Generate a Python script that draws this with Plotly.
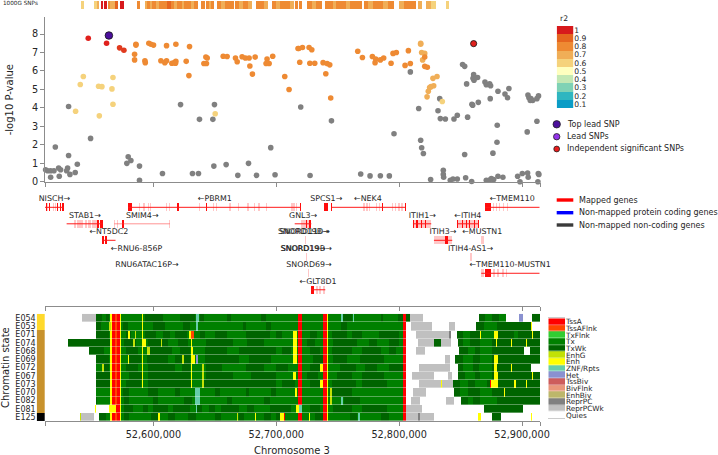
import numpy as np
import plotly.graph_objects as go

W, H = 718, 455
START = 52_500_000          # all positions below are kb after this base
X0_KB, X1_KB = 11.8, 414.6
FONT = "DejaVu Sans"
INK = "#262626"
AXC = "#8c8c8c"

# ---------- SNPs (kb offset, -log10 P) ----------
gray_kb = [12.3,14.0,16.4,16.4,19.1,20.2,22.9,23.4,24.5,29.4,30.2,31.0,31.0,32.1,36.4,38.1,48.9,78.4,79.5,81.7,88.7,88.7,107.4,122.1,131.8,136.7,137.5,148.4,149.2,149.7,159.2,168.7,177.4,183.9,195.5,199.0,219.9,244.9,227.5,268.7,276.3,284.7,292.0,295.8,309.1,315.9,317.5,318.3,319.7,325.6,335.9,335.9,336.2,331.6,333.0,333.5,337.6,341.6,343.8,347.3,344.6,347.3,355.7,354.1,359.0,353.3,351.6,353.3,360.6,363.8,360.1,360.9,354.9,359.2,359.8,364.4,369.8,370.9,373.6,374.4,370.9,373.6,375.0,376.9,380.4,384.4,374.1,380.4,386.1,388.2,389.3,379.6,379.8,376.3,396.4,400.2,398.3,404.5,405.0,412.9,413.2,413.7,404.2,412.1,404.8,405.6,407.2,406.7,408.6,412.1,413.4]
gray_p = [0.65,0.6,0.6,0.25,0.6,1.88,0.75,0.3,0.65,0.6,0.75,1.42,4.08,0.4,0.5,0.95,2.35,1.0,1.35,1.15,0.85,0.08,0.45,4.18,0.45,0.45,3.38,3.38,0.85,4.18,0.93,0.35,1.0,0.35,1.85,0.38,4.05,3.3,0.34,0.42,0.32,0.33,0.32,2.6,5.95,3.97,2.25,1.84,1.53,0.12,0.62,0.4,0.25,3.85,4.5,3.42,3.4,0.08,0.15,0.15,3.4,3.6,3.5,0.22,0.02,1.48,6.35,6.25,5.8,5.65,5.6,5.5,5.3,4.2,4.15,4.3,5.4,5.25,5.3,5.2,0.08,0.1,0.18,0.12,0.3,0.25,4.5,4.9,4.75,4.55,5.05,2.14,3.06,1.55,0.3,0.45,0.0,0.47,0.25,0.0,0.45,0.4,2.7,3.28,4.7,4.55,4.5,4.4,4.4,4.5,4.65]

r06_kb = [36.7,56.0,67.1,40.5,43.0,55.4,58.1,66.3,67.1,150.3,335.1]
r06_p = [3.82,3.57,4.2,5.27,5.7,5.17,5.15,5.03,5.65,3.68,4.35]

r07_kb = [327.5,330.8,324.8,328.1,323.7,322.7,325.9,317.5,317.5,319.1,318.3,320.8]
r07_p = [5.6,5.7,5.1,5.2,4.9,4.6,5.15,7.5,7.45,6.6,7.0,6.95]

r08_kb = [84.7,84.7,85.8,85.8,96.3,98.0,100.1,110.7,118.3,129.4,93.1,93.4,106.1,109.3,110.7,115.0,117.0,118.3,118.0,126.7,128.9,141.1,143.2,142.7,143.8,156.8,160.0,166.8,168.2,172.2,174.9,177.9,178.5,180.6,182.8,192.5,191.7,194.2,197.1,206.9,210.4,217.7,218.3,221.3,226.7,228.9,219.1,227.3,231.3,238.1,241.4,243.5,240.3,244.3,266.3,270.1,278.2,280.9,280.4,284.7,287.4,293.4,295.0,297.7,307.5,304.8,309.1,320.8,320.8,322.9]
r08_p = [6.9,6.6,7.45,7.4,7.5,7.45,7.4,7.37,7.45,7.32,6.55,6.45,6.55,6.45,6.55,6.42,6.45,6.52,6.42,6.52,5.75,6.4,6.4,6.75,6.7,6.8,6.78,6.7,6.5,6.77,6.7,6.7,6.27,5.83,6.75,6.65,6.4,6.4,6.8,5.7,5.0,7.22,7.22,7.27,7.27,7.15,6.47,6.42,6.42,6.45,6.4,6.33,5.85,4.54,7.07,6.73,6.78,6.65,6.45,6.6,6.7,6.42,6.95,7.0,7.1,6.3,6.4,6.75,6.25,6.2]

r10_kb = [47.0,61.9]
r10_p = [7.77,7.5]
r095_kb = [72.5,76.0]
r095_p = [7.25,7.12]
top_kb, top_p = [63.8], [7.92]
indep_kb, indep_p = [360.6], [7.48]

# ---------- 1000G band (start kb, end kb, r2) ----------
band_runs = [(41.1,43.5,.6),(51.6,53.8,.6),(53.8,56,.7),(57.3,59,1),(59.6,62.2,1),(63.8,65.4,.8),(65.4,66.6,.7),(67,68.4,.7),(68.4,71,.9),(72.8,76,1),(86.9,89,.8),
(93.1,95,.7),(95,97.5,.8),(97.5,99,.7),(99,102,.8),(102,104.5,.7),(104.5,108,.8),(108,111,.8),(111,114,.9),(114,117,.8),(117,119,.7),(119,123,.8),(123,125,.7),(125,128,.8),(128,131,.8),(131,133,.7),(133,136.4,.8),
(138.9,141.6,.8),(142.7,145,.8),(145,147,.7),(147,149.5,.8),(151.9,155,.8),(155,158,.7),(158,162,.8),(162,165.4,.8),(166,170,.8),(170,173,.7),(173,177,.8),(177,180.3,.7),(183.9,187,.8),(187,190,.8),(190,193.4,.7),
(196.9,200,.8),(200,203,.7),(203,207,.8),(207,211,.8),(211,214.3,.7),(215,217.8,.8),(218.3,221.3,.8),(225.4,229,.8),(229,232,.7),(232,237.6,.8),(239.5,243,.8),(243,246,.8),(246,249,.7),(249,253,.8),(253,257,.8),(257,260,.7),(260,265,.8),(265,270,.8),
(271.2,275,.8),(275,279,.7),(279,283,.8),(283,287,.8),(287,291,.7),(291,296,.8),(300.2,304,.7),(304,309,.8),(309,314,.8),(315.3,318.6,.7),(321.6,326,.7),(326,329.7,.6),(337.8,340.3,.6)]

r2_labels = ["1","0.9","0.8","0.7","0.6","0.5","0.4","0.3","0.2","0.1"]
r2_colors = ["#d7191c","#e5651f","#ee8a33","#f0ae57","#f5d27c","#ffffbf","#c3e8b4","#7fd2b5","#2fb6c0","#0a9cc6"]
r2_color_of = {1:r2_colors[0],.9:r2_colors[1],.8:r2_colors[2],.7:r2_colors[3],.6:r2_colors[4]}

# ---------- genes ----------
gene_names = ["NISCH→","←PBRM1","SPCS1→","←NEK4","←TMEM110","STAB1→","SMIM4→","GNL3→","ITIH1→","←ITIH4","←NT5DC2","SNORD19B→","SNORD110→","ITIH3→","←MUSTN1","←RNU6-856P","SNORD19→","SNORD19B→","ITIH4-AS1→","RNU6ATAC16P→","SNORD69→","←TMEM110-MUSTN1","←GLT8D1"]
gene_rows = [0,0,0,0,0,1,1,1,1,1,2,2,2,2,2,3,3,3,3,4,4,4,5]
gene_label_kb = [19.4,150,240.7,274.6,392,44.3,90.9,221.8,318.8,355.9,63.8,222.0,223.1,335.6,367.6,86.3,221.8,224.5,358.1,94.7,226.6,390.3,234]
# gene body lines: row, start, end
body_lines = [(0,11.8,27.2),(0,79.5,219.9),(0,244.8,305),(0,370,414.2),(1,29.4,58.7),(1,215,228.5),(1,311.2,326.1),(1,347,364.9),(2,58.4,69.2),(2,328.3,343.2),(4,366.8,414.2),(5,228.5,239.9)]
pale_lines = [(1,68.2,113.4)]
strong_exons = [(0,12.3,13.2),(0,15,15.9),(0,21.5,22.6),(0,24,25.1),(0,25.9,27.2),(0,79.5,82.8),(0,119.6,121),(0,143.2,144),(0,219,219.9),
(0,238.8,241),(0,241.4,242.4),(0,244.8,245.5),(0,278.4,279),(0,286,286.6),(0,304.7,305.2),(0,370,374.5),
(1,29.4,29.8),(1,53.8,56),(1,56.5,58.7),(1,74.7,76),(1,311.2,312.4),(1,314,315),(1,317.5,318.5),(1,321,322),(1,347,347.8),(1,351,351.8),(1,354.5,355.5),(1,357,358),(1,360.5,361.5),(1,364,364.9),
(1,224,225),(1,227,228.3),(2,58.4,60),(2,60.5,62),(2,63.5,64),(2,337,339.5),(4,369.5,374.5),(5,228.5,231)]
pale_exons = [(0,13.5,14.5),(0,16.5,17),(0,18.5,19),(0,20,21),(0,88,89),(0,91.8,92.8),(0,95.3,96.3),(0,97.2,98.2),(0,110.2,111.2),(0,112.9,113.9),(0,137.3,138.3),(0,148.1,149.1),(0,150.9,151.9),(0,161.6,163.5),(0,168.5,169.5),(0,176.5,177.5),(0,182,183),(0,185.5,186.5),(0,191.5,192.5),(0,212.3,213.5),(0,214,215),(0,216,217),
(0,270.9,271.9),(0,273.3,274.3),(0,275.5,276.5),(0,280.9,281.9),(0,283.6,284.6),(0,293.9,294.9),(0,296.6,297.6),(0,299.3,300.3),(0,301.8,302.8),(0,376,376.8),(0,378.6,379.4),(0,381.3,382.1),(0,384.5,385.3),(0,388,388.8),
(1,35.4,37),(1,37.5,40),(1,40.5,43),(1,44,46),(1,47,49),(1,50,53.8),(1,68,68.6),(1,70.6,71.2),(1,113.1,113.6),(1,215,215.5),(1,220.4,228.5),(1,311.2,326.1),(1,347,364.9),
(2,328.3,337),(2,339.5,343.2),(2,366.8,369),(2,223,224.5),(3,224,225),(3,85.6,86),(3,357.5,358.9),(4,94.5,95),(4,226,227),
(4,366.8,369),(4,376,378),(4,379.5,381),(4,384,385),(4,387,388),(5,232,234),(5,235,236.5),(5,238,239.9)]

# ---------- chromatin states ----------
state_names = ["TssA","TssAFlnk","TxFlnk","Tx","TxWk","EnhG","Enh","ZNF/Rpts","Het","TssBiv","BivFlnk","EnhBiv","ReprPC","ReprPCWk","Quies"]
state_colors = ["#ff0000","#ff4500","#32cd32","#008000","#006400","#c2e105","#ffff00","#66cdaa","#8a91d0","#cd5c5c","#e9967a","#bdb76b","#808080","#c0c0c0","#ffffff"]
row_names = ["E054","E053","E071","E074","E068","E069","E072","E067","E073","E070","E082","E081","E125"]
strip_groups = [0,0,1,1,1,1,1,1,1,1,1,1,2]
strip_colors = ["#ffd92b","#c8922c","#000000"]

# base runs: (start, end, state) painted in order
E054_runs = [(42.1,53,13),(53,305.8,3),(305.8,308.5,4),(308.5,319.3,13),(364.6,386.5,3),(364.6,370,4),(376,381,4),(397.9,401.2,8),(408,414.2,4)]
E053_runs = [(53,305.8,3),(309.8,326.9,13),(340.2,345.6,13),(362.7,387,4),(369,380,3),(387,407.4,4),(407.4,408.2,6)]
E071_runs = [(53,305.8,3),(313.9,342.4,13),(340.5,342.4,12),(347.2,414.2,4),(352,358,3),(365.4,377,3),(365.4,366.4,6),(377.6,380.3,6),(394,397,3),(408,408.8,6)]
E074_runs = [(30.8,53,4),(53,305.8,3),(315.3,328.3,13),(328.3,334,4),(334,342.1,13),(348,414.2,4),(352,358,3),(366,376,3),(378.5,380,6),(391,392,6),(403,404,6)]
E068_runs = [(47.8,53,4),(53,305.8,3),(313.9,321,13),(349,402,4),(356,362,3),(366,376,3),(406.6,414.2,4)]
E069_runs = [(53,305.8,3),(337.5,341,13),(345.6,414.2,4),(352,360,3),(366,376,3),(377.6,380.3,6)]
E072_runs = [(53,305.8,3),(315.8,341,13),(348,407.4,4),(352,360,3),(365,376,3),(377.5,380,6),(391,392,6)]
E067_runs = [(53,305.8,3),(310.7,328.8,13),(340,343,13),(348,414.2,4),(354,362,3),(366,376,3),(377.6,380.3,6),(408,409,6)]
E073_runs = [(53,305.8,3),(316,344.3,13),(334,334.6,6),(344.3,414.2,4),(350,356,3),(362,372,3),(375,380.3,6),(374,375,0),(394,395,6),(403,404,6)]
E070_runs = [(53,305.8,3),(311.2,322,13),(344.7,414.2,4),(350,356,3),(366,376,3),(385,386,6)]
E082_runs = [(53,305.8,3),(309.8,316.6,13),(337.8,345,13),(350.5,414.2,4),(356,360,3),(366,380,3)]
E081_runs = [(52.4,53.5,6),(64,305.8,3),(305.8,318.8,13),(369.5,400.6,4)]
E125_runs = [(40.2,41,5),(41.6,51.6,13),(56,305.8,3),(305.8,328.8,13),(315.3,317.2,12),(364,366.2,6),(375.4,382.5,4),(407,408,6)]

# weak-transcription patches inside the main block (start, end)
E054_dark = [(53,58),(62,64),(93,108),(122,134),(138,141),(160,163),(188,192),(254,262),(285,287),(299,303)]
E053_dark = [(53,57),(75,79),(100,110),(124,130),(173,175),(192,196),(253,258)]
E071_dark = [(53,64),(78,82),(93,102),(108,114),(118,127),(138,142),(150,160),(175,195),(200,205),(228,233),(245,258),(262,270),(284,300)]
E074_dark = [(53,65),(76,86),(96,112),(120,128),(143,165),(176,190),(225,232),(246,266),(276,282),(292,300)]
E068_dark = [(53,60),(78,88),(95,115),(122,130),(142,160),(170,200),(205,212),(228,236),(245,262),(270,285),(292,298)]
E069_dark = [(53,64),(80,90),(95,112),(118,130),(142,170),(178,196),(230,238),(246,258),(268,288)]
E072_dark = [(58,64),(78,88),(96,118),(123,130),(143,156),(175,190),(200,210),(228,236),(252,265),(272,282),(292,303)]
E067_dark = [(53,66),(80,92),(96,130),(143,165),(180,200),(225,234),(250,262),(270,288)]
E073_dark = [(53,66),(78,90),(96,132),(140,200),(205,215),(228,236),(245,265),(270,290)]
E070_dark = [(75,80),(96,104),(118,122),(150,154),(175,178),(196,200),(245,262)]
E082_dark = [(53,54),(76,80),(100,104),(125,132),(160,164),(190,195),(255,268)]
E081_dark = [(76,84),(92,96),(100,112),(116,130),(136,140),(145,150),(155,170),(176,182),(195,212),(228,236),(246,262),(270,290)]
E125_dark = [(56,62),(76,80),(98,104),(112,118),(128,135),(150,155),(170,174),(190,196),(200,205),(232,238),(260,266),(285,292)]

# features common to most samples
shared_marks = [(64.5,66.4,6),(66.4,69.2,0),(69.2,70.6,1),(70.6,72.8,0),(72.8,74,6),(217.7,221.2,0),(238.2,241.2,0),(241.2,241.8,6),(303.6,305.8,0)]
# enhancer stripe present in the first nine samples only
E91_mark = [(90.8,91.8,6)]
# sample-specific features painted last
E054_marks = [(135,137,7),(253,254.3,7),(262.5,263.5,7)]
E053_marks = [(135,136.5,7),(64,66,5)]
E071_marks = [(79,80.5,6),(85,86,5),(129,131,6),(131,133,1),(213.6,217,6)]
E074_marks = [(91,94,6),(106,107,5),(131,132,6),(213.6,217,6),(84,85,5)]
E068_marks = [(131,132.5,6),(95,97,5),(213.6,217,6)]
E069_marks = [(79,80,6),(131,134,6),(134.5,136.5,8),(123,125,5),(213.6,217,6)]
E072_marks = [(58,60,5),(131,132,6),(140,141,5),(236,238,6)]
E067_marks = [(131,132,6),(140,141,5),(214,216,6)]
E073_marks = [(131,132,6),(140,141,5),(236,238,6)]
E070_marks = [(134,138,7),(215,217,6),(244,245,5)]
E082_marks = [(134,138,7),(253,254.3,7),(244,245,5)]
E081_marks = [(64,66.5,6),(66.5,70,6),(70,72.8,0),(72.8,74,6),(134.5,135.5,7),(216,218.5,6),(218.5,221,7)]
E125_marks = [(103.5,105,6),(168,169,5),(183,184,6),(203,206.5,6),(206.5,207,0),(266.5,268,7),(227,228,6)]

all_runs = [E054_runs,E053_runs,E071_runs,E074_runs,E068_runs,E069_runs,E072_runs,E067_runs,E073_runs,E070_runs,E082_runs,E081_runs,E125_runs]
all_dark = [E054_dark,E053_dark,E071_dark,E074_dark,E068_dark,E069_dark,E072_dark,E067_dark,E073_dark,E070_dark,E082_dark,E081_dark,E125_dark]
all_marks = [E054_marks,E053_marks,E071_marks,E074_marks,E068_marks,E069_marks,E072_marks,E067_marks,E073_marks,E070_marks,E082_marks,E081_marks,E125_marks]

# ---------- text ----------
x_ticks_kb = [11.8,100,200,300,400,414.6]
x_tick_text = ["","52,600,000","52,700,000","52,800,000","52,900,000",""]
y_ticks = [0,1,2,3,4,5,6,7,8]


def pos(a):
    return START + 1000 * np.asarray(a, dtype=float)

def xd(l, r):
    return [l / W, r / W]

def yd(t, b):
    return [1 - b / H, 1 - t / H]

X_RANGE = [pos(X0_KB), pos(X1_KB)]
MAIN_X = xd(45, 540)
fig = go.Figure()

# Manhattan
def snp(kb, p, color, size=5.6, line=None):
    fig.add_trace(go.Scatter(x=pos(kb), y=p, mode="markers", cliponaxis=False, hoverinfo="skip", showlegend=False,
                             marker=dict(color=color, size=size, line=line or dict(width=0)), xaxis="x", yaxis="y"))
snp(gray_kb, gray_p, "#808080")
snp(r06_kb, r06_p, r2_colors[4])
snp(r07_kb, r07_p, r2_colors[3])
snp(r08_kb, r08_p, r2_colors[2])
snp(r095_kb, r095_p, "#e03a1e")
snp(r10_kb, r10_p, "#e0201c")
snp(top_kb, top_p, "#4b0f9c", size=7.6, line=dict(width=0.8, color="#111111"))
snp(indep_kb, indep_p, "#e0201c", size=6.2, line=dict(width=0.8, color="#111111"))

# 1000G band
fig.add_trace(go.Bar(x=pos([(a + b) / 2 for a, b, _ in band_runs]), width=[(b - a) * 1000 for a, b, _ in band_runs],
                     y=[1] * len(band_runs), marker=dict(color=[r2_color_of[c] for _, _, c in band_runs], line=dict(width=0)),
                     hoverinfo="skip", showlegend=False, xaxis="x2", yaxis="y2"))

# Genes
def lines(runs, color, width):
    xs, ys = [], []
    for r, a, b in runs:
        xs += [pos(a), pos(b), None]
        ys += [r, r, None]
    fig.add_trace(go.Scatter(x=xs, y=ys, mode="lines", line=dict(color=color, width=width), hoverinfo="skip",
                             showlegend=False, xaxis="x3", yaxis="y3"))

def exons(runs, color):
    fig.add_trace(go.Bar(x=pos([(a + b) / 2 for _, a, b in runs]), width=[(b - a) * 1000 for _, a, b in runs],
                         base=[r - 0.24 for r, _, _ in runs], y=[0.48] * len(runs),
                         marker=dict(color=color, line=dict(width=0)), hoverinfo="skip", showlegend=False,
                         xaxis="x3", yaxis="y3"))
lines(pale_lines, "rgba(255,60,60,0.55)", 1)
lines(body_lines, "#ff1a1a", 1)
exons(pale_exons, "rgba(255,0,0,0.22)")
exons(strong_exons, "rgba(255,0,0,0.95)")
fig.add_trace(go.Scatter(x=pos(gene_label_kb), y=[r - 0.49 for r in gene_rows], text=gene_names, mode="text",
                         textfont=dict(family=FONT, size=7.9, color=INK), textposition="middle center",
                         cliponaxis=False, hoverinfo="skip", showlegend=False, xaxis="x3", yaxis="y3"))

# Chromatin grid
centres = np.arange(X0_KB + 0.2, X1_KB, 0.4)
grid = np.full((len(row_names), centres.size), 14)
def paint(i, runs):
    for a, b, s in runs:
        grid[i, (centres >= a) & (centres < b)] = s
for i in range(len(row_names)):
    paint(i, all_runs[i])
    paint(i, [(a, b, 4) for a, b in all_dark[i]])
    paint(i, [m for m in shared_marks if not (i == 11 and 210 < m[0] < 222)])
    if i < 9:
        paint(i, E91_mark)
    paint(i, all_marks[i])

scale = []
for i, c in enumerate(state_colors):
    scale += [[i / 15, c], [(i + 1) / 15, c]]
fig.add_trace(go.Heatmap(x=pos(centres), y=list(range(len(row_names))), z=grid, zmin=-0.5, zmax=14.5, colorscale=scale,
                         showscale=False, ygap=0.35, hoverinfo="skip", xaxis="x4", yaxis="y4"))

strip_scale = []
for i, c in enumerate(strip_colors):
    strip_scale += [[i / 3, c], [(i + 1) / 3, c]]
fig.add_trace(go.Heatmap(x=[0], y=list(range(len(row_names))), z=[[g] for g in strip_groups], zmin=-0.5, zmax=2.5,
                         colorscale=strip_scale, showscale=False, hoverinfo="skip", xaxis="x5", yaxis="y4"))

# top rule of chromatin panel
fig.add_trace(go.Scatter(x=pos([X0_KB]), y=[0], mode="markers", marker=dict(opacity=0), hoverinfo="skip", showlegend=False,
                         xaxis="x6", yaxis="y5"))

# r2 legend bar
r2_scale = []
for i, c in enumerate(r2_colors):
    r2_scale += [[i / 10, c], [(i + 1) / 10, c]]
fig.add_trace(go.Heatmap(x=[0], y=list(range(10)), z=[[i] for i in range(10)], zmin=-0.5, zmax=9.5, colorscale=r2_scale,
                         showscale=False, hoverinfo="skip", xaxis="x7", yaxis="y6"))
# state legend bar
fig.add_trace(go.Heatmap(x=[0], y=list(range(15)), z=[[i] for i in range(15)], zmin=-0.5, zmax=14.5, colorscale=scale,
                         showscale=False, ygap=0.4, hoverinfo="skip", xaxis="x8", yaxis="y7"))

tickf = dict(family=FONT, size=9.7, color=INK)
def common_x(domain, **kw):
    d = dict(domain=domain, range=X_RANGE, showgrid=False, zeroline=False, showticklabels=False, ticks="",
             showline=False, fixedrange=True)
    d.update(kw)
    return d
rule = dict(showline=True, linecolor=AXC, linewidth=1, ticks="outside", ticklen=4, tickcolor=AXC, tickwidth=1,
            tickmode="array", tickvals=pos(x_ticks_kb), ticktext=x_tick_text)
def hidden_y(domain, **kw):
    d = dict(domain=domain, showgrid=False, zeroline=False, showticklabels=False, ticks="", showline=False, fixedrange=True)
    d.update(kw)
    return d
def hidden_x(domain):
    return dict(domain=domain, showgrid=False, zeroline=False, showticklabels=False, ticks="", showline=False, fixedrange=True)

def note(text, x, y, size=8.0, anchor="left", angle=0, color=INK):
    fig.add_annotation(text=text, x=x / W, y=1 - y / H, xref="paper", yref="paper", showarrow=False, xanchor=anchor,
                       yanchor="middle", textangle=angle, font=dict(family=FONT, size=size, color=color))

note("1000G SNPs", 0.5, 3.2, size=5.7)
note("-log10 P-value", 9.3, 100, size=10, anchor="center", angle=-90)
note("Chromatin state", 5, 368, size=10, anchor="center", angle=-90)
note("Chromosome 3", 292, 450.5, size=10, anchor="center")
note("r2", 564, 18.5, size=7.7, anchor="center")
for label, y in [("Top lead SNP", 124.3), ("Lead SNPs", 136.7), ("Independent significant SNPs", 149)]:
    note(label, 565, y)
for label, y in [("Mapped genes", 200), ("Non-mapped protein coding genes", 212.7), ("Non-mapped non-coding genes", 225)]:
    note(label, 577, y)

shapes = []
def dot(cx, cy, r, color):
    shapes.append(dict(type="circle", xref="paper", yref="paper", x0=(cx - r) / W, x1=(cx + r) / W, y0=1 - (cy + r) / H,
                       y1=1 - (cy - r) / H, fillcolor=color, line=dict(color="#222222", width=0.8)))
dot(556.7, 124.3, 3.7, "#4b0f9c")
dot(556.7, 136.7, 3.2, "#9333ea")
dot(556.7, 149, 2.9, "#e81c1c")
for c, y in [("#ff0000", 200), ("#0000ff", 212.7), ("#3a3a3a", 225)]:
    shapes.append(dict(type="rect", xref="paper", yref="paper", x0=556.7 / W, x1=573.3 / W, y0=1 - (y + 1.7) / H,
                       y1=1 - (y - 1.7) / H, fillcolor=c, line=dict(width=0)))

legend_tick = dict(family=FONT, size=7.6, color=INK)
fig.update_layout(
    width=W, height=H, margin=dict(l=0, r=0, t=0, b=0, autoexpand=False), autosize=False, paper_bgcolor="white", plot_bgcolor="white",
    barmode="overlay", bargap=0, showlegend=False, shapes=shapes,
    xaxis=common_x(MAIN_X, anchor="y", **rule),
    yaxis=dict(domain=yd(17.3, 181.8), range=[0, 8.905], tickmode="array", tickvals=y_ticks, showgrid=False, zeroline=False,
               showline=True, linecolor=AXC, linewidth=1, ticks="outside", ticklen=4, tickcolor=AXC, tickfont=tickf,
               fixedrange=True, anchor="x"),
    xaxis2=common_x(MAIN_X, anchor="y2"),
    yaxis2=hidden_y(yd(1, 9), range=[0, 1], anchor="x2"),
    xaxis3=common_x(MAIN_X, anchor="y3"),
    yaxis3=hidden_y(yd(190, 300), range=[5.62, -1.05], anchor="x3"),
    xaxis4=dict(domain=MAIN_X, range=X_RANGE, showgrid=False, zeroline=False, showticklabels=True, tickfont=tickf, anchor="y4",
                fixedrange=True, **rule),
    xaxis5=hidden_x(xd(36.7, 45)),
    yaxis4=dict(domain=yd(305.7, 421.3), range=[12.5, -1.5], tickmode="array", tickvals=list(range(13)), ticktext=row_names,
                showgrid=False, zeroline=False, showline=False, ticks="", tickfont=dict(family=FONT, size=8, color=INK),
                anchor="x5", fixedrange=True),
    xaxis6=common_x(MAIN_X, anchor="y5", **rule),
    yaxis5=hidden_y(yd(305.2, 305.7), range=[0, 1], anchor="x6"),
    xaxis7=hidden_x(xd(556.7, 573.3)),
    yaxis6=dict(domain=yd(26, 108.3), range=[9.5, -0.5], tickmode="array", tickvals=list(range(10)), ticktext=r2_labels,
                side="right", showgrid=False, zeroline=False, showline=False, ticks="", tickfont=legend_tick,
                anchor="x7", fixedrange=True),
    xaxis8=dict(domain=xd(548.3, 565), showgrid=False, zeroline=False, showticklabels=False, ticks="", fixedrange=True,
                showline=True, mirror=True, linecolor="#cccccc", linewidth=0.6, anchor="y7"),
    yaxis7=dict(domain=yd(318.3, 418.3), range=[14.5, -0.5], tickmode="array", tickvals=list(range(15)), ticktext=state_names,
                side="right", showgrid=False, zeroline=False, showline=False, ticks="", tickfont=dict(family=FONT, size=7.3, color=INK),
                anchor="x8", fixedrange=True),
)
for key in ["xaxis","xaxis2","xaxis3","xaxis4","xaxis5","xaxis6","xaxis7","xaxis8","yaxis","yaxis2","yaxis3","yaxis4","yaxis5","yaxis6","yaxis7"]:
    fig.layout[key].automargin = False

page_fix = ("document.documentElement.style.margin='0';document.documentElement.style.overflow='hidden';"
            "document.body.style.margin='0';document.body.style.overflow='hidden';"
            "var g=document.querySelector('.plotly-graph-div');g.style.position='fixed';g.style.left='0';g.style.top='0';")
fig.write_html("out.html", config={"displayModeBar": False}, post_script=page_fix)
